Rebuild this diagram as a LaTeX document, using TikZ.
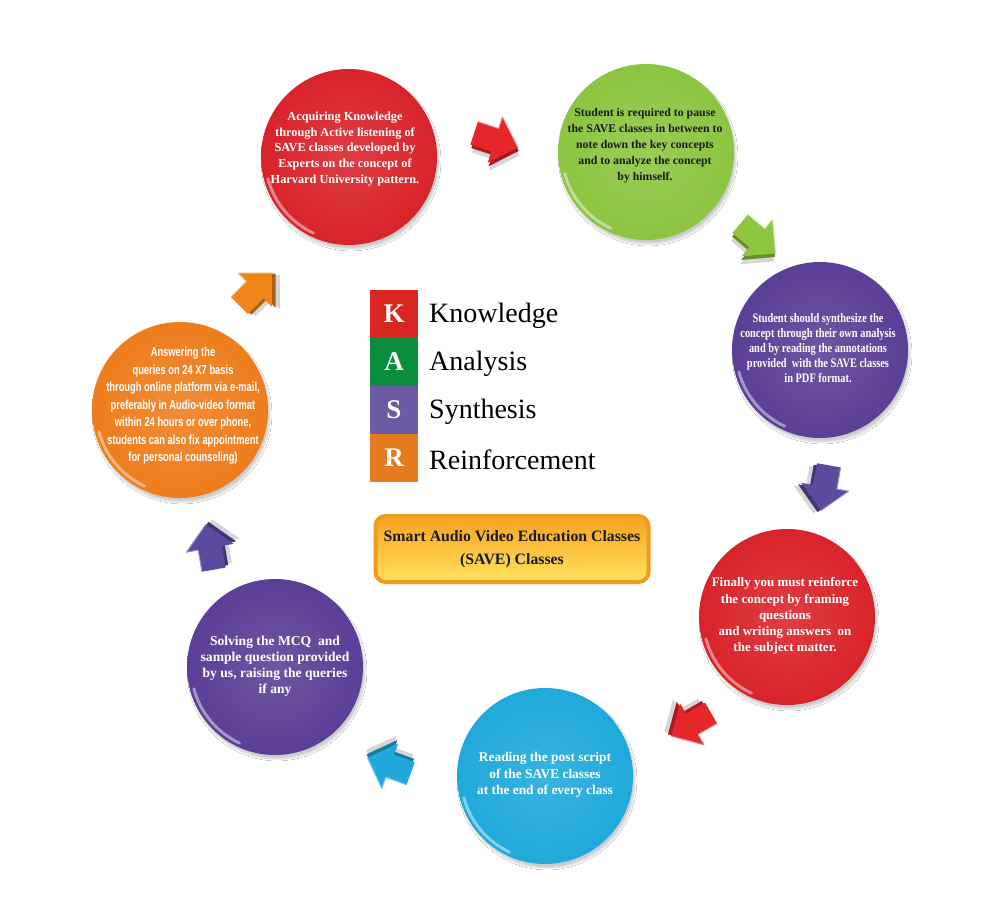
\documentclass[tikz,border=0pt]{standalone}
\usepackage{fontspec}
\setmainfont{Liberation Serif}
\newfontfamily\condsans[FakeStretch=0.72]{Liberation Sans}
\newfontfamily\condserif[FakeStretch=0.8]{Liberation Serif}
\usetikzlibrary{shadows.blur}

% palette
\definecolor{bubRed}{HTML}{D9232A}
\definecolor{bubGreen}{HTML}{8CC540}
\definecolor{bubPurple}{HTML}{5B3E96}
\definecolor{bubBlue}{HTML}{1FA9DB}
\definecolor{bubOrange}{HTML}{EE7D1C}
\definecolor{keyRed}{HTML}{DA2622}
\definecolor{keyGreen}{HTML}{0A8E3E}
\definecolor{keyPurple}{HTML}{6A5BA3}
\definecolor{keyOrange}{HTML}{E67A1F}
\definecolor{arRed}{HTML}{E5262B}
\definecolor{arGreen}{HTML}{8DC63F}
\definecolor{arPurple}{HTML}{5C4A9E}
\definecolor{arBlue}{HTML}{22A9DB}
\definecolor{arOrange}{HTML}{F08519}
\definecolor{saveEdge}{HTML}{F09A1E}
\definecolor{saveTop}{HTML}{F6A21F}
\definecolor{saveBot}{HTML}{FFE35E}
\definecolor{darkText}{HTML}{1A1A1A}

\tikzset{
  bubble/.style={circle, minimum size=176pt, inner sep=0pt,
    inner color=#1!88!white, outer color=#1,
    blur shadow={shadow xshift=2pt, shadow yshift=-4pt, shadow opacity=20, shadow blur steps=8}},
  gloss/.style={white, opacity=0.45, line width=3pt, line cap=round},
  bubtext/.style={align=center, text=white, inner sep=0pt},
  keybox/.style={minimum width=48pt, minimum height=48pt, inner sep=0pt,
    text=white, font=\bfseries\fontsize{27}{27}\selectfont},
  keylabel/.style={anchor=west, inner sep=0pt, font=\fontsize{28}{28}\selectfont},
  savebox/.style={rounded corners=10pt, minimum width=273pt, minimum height=66pt,
    draw=saveEdge, line width=4pt, top color=saveTop, bottom color=saveBot,
    align=center, text=darkText, font=\bfseries\fontsize{15.8}{23}\selectfont},
  pics/blockarrow/.style={code={
    % soft drop shadow
    \fill[black, opacity=0.16, shift={(4,7)}]
      (-22,-12) -- (0,-12) -- (0,-24) -- (24,0) -- (0,24) -- (0,12) -- (-22,12) -- cycle;
    % side face
    \fill[#1!72!black, shift={(2,3)}]
      (-22,-12) -- (0,-12) -- (0,-24) -- (24,0) -- (0,24) -- (0,12) -- (-22,12) -- cycle;
    % top face
    \fill[#1]
      (-22,-12) -- (0,-12) -- (0,-24) -- (24,0) -- (0,24) -- (0,12) -- (-22,12) -- cycle;
    \draw[#1!60!white, line width=1pt, line join=round]
      (-22,-12) -- (0,-12) -- (0,-24) -- (24,0);
  }}
}

\begin{document}
\begin{tikzpicture}[x=1pt, y=-1pt]
\useasboundingbox[fill=white] (0,0) rectangle (1000,923);

% ---- the seven steps ----
\node[bubble=bubRed]    (c1) at (349,157) {};
\node[bubble=bubGreen]  (c2) at (646,152) {};
\node[bubble=bubPurple] (c3) at (820,350) {};
\node[bubble=bubRed]    (c4) at (787,617) {};
\node[bubble=bubBlue]   (c5) at (545,776) {};
\node[bubble=bubPurple] (c6) at (275,667) {};
\node[bubble=bubOrange] (c7) at (180,410) {};

\foreach \c in {c1,c2,c3,c4,c5,c6,c7}
  \draw[gloss] (\c) ++(-195:84) arc[start angle=-195, end angle=-245, radius=84];

\node[bubtext, font=\bfseries\fontsize{12.3}{15.8}\selectfont] (t1) at (345,149)
  {Acquiring Knowledge\\through Active listening of\\SAVE classes developed by\\Experts on the concept of\\Harvard University pattern.};
\node[bubtext, text=darkText, font=\bfseries\fontsize{11.8}{16}\selectfont] (t2) at (645,146)
  {Student is required to pause\\the SAVE classes in between to\\note down the key concepts\\and to analyze the concept\\by himself.};
\node[bubtext, font=\condserif\bfseries\fontsize{13}{15.2}\selectfont] (t3) at (818,348)
  {Student should synthesize the\\concept through their own analysis\\and by reading the annotations\\provided\ \ with the SAVE classes\\in PDF format.};
\node[bubtext, font=\bfseries\fontsize{13}{16.2}\selectfont] (t4) at (785,616)
  {Finally you must reinforce\\the concept by framing\\questions\\and writing answers\ \ on\\the subject matter.};
\node[bubtext, font=\bfseries\fontsize{13.4}{16.7}\selectfont] (t5) at (545,775)
  {Reading the post script\\of the SAVE classes\\at the end of every class};
\node[bubtext, font=\bfseries\fontsize{13.6}{16.1}\selectfont] (t6) at (275,666)
  {Solving the MCQ\ \ and\\sample question provided\\by us, raising the queries\\if any};
\node[bubtext, font=\condsans\bfseries\fontsize{13}{17.5}\selectfont] (t7) at (183,406)
  {Answering the\\queries on 24 X7 basis\\through online platform via e-mail,\\preferably in Audio-video format\\within 24 hours or over phone,\\students can also fix appointment\\for personal counseling)};

% ---- arrows between the steps ----
\pic[rotate=-18]  (a1) at (495,140) {blockarrow=arRed};
\pic[rotate=-40]  (a2) at (757,238) {blockarrow=arGreen};
\pic[rotate=-100] (a3) at (825,487) {blockarrow=arPurple};
\pic[rotate=-150] (a4) at (692,724) {blockarrow=arRed};
\pic[rotate=160]  (a5) at (390,766) {blockarrow=arBlue};
\pic[rotate=100]  (a6) at (210,548) {blockarrow=arPurple};
\pic[rotate=45]   (a7) at (255,290) {blockarrow=arOrange};

% ---- KASR key ----
\node[keybox, fill=keyRed]    (kK) at (394,314) {K};
\node[keybox, fill=keyGreen]  (kA) at (394,362) {A};
\node[keybox, fill=keyPurple] (kS) at (394,410) {S};
\node[keybox, fill=keyOrange] (kR) at (394,458) {R};
\node[keylabel] (lK) at (429,316) {Knowledge};
\node[keylabel] (lA) at (429,364) {Analysis};
\node[keylabel] (lS) at (429,412) {Synthesis};
\node[keylabel] (lR) at (429,460) {Reinforcement};

% ---- title plate ----
\node[savebox] (save) at (512,549)
  {Smart Audio Video Education Classes\\(SAVE) Classes};
\end{tikzpicture}
\end{document}
